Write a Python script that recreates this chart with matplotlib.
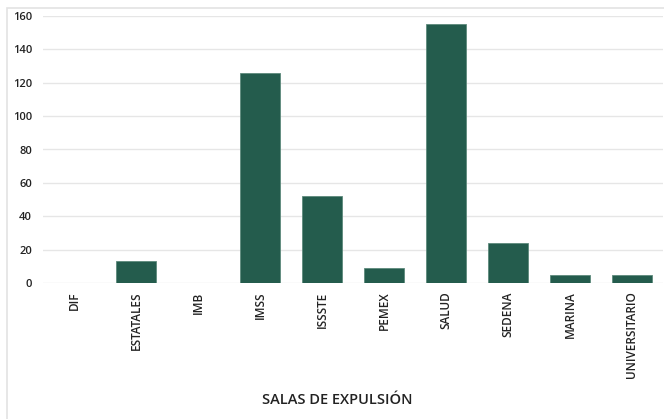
import matplotlib
matplotlib.use("Agg")
import matplotlib.pyplot as plt
from matplotlib.patches import Rectangle

categories = ["DIF", "ESTATALES", "IMB", "IMSS", "ISSSTE", "PEMEX", "SALUD", "SEDENA", "MARINA", "UNIVERSITARIO"]
values = [0, 13, 0, 126, 52, 9, 155, 24, 5, 5]
yticks = [0, 20, 40, 60, 80, 100, 120, 140, 160]

plt.rcParams['font.family'] = ['Open Sans', 'DejaVu Sans']

fig = plt.figure(figsize=(6.64, 4.19), dpi=100)
fig.patches.append(Rectangle((7/664, -0.01), 1.0, 1 - 8/419 + 0.01, transform=fig.transFigure,
                             fill=False, edgecolor='#e3e3e3', linewidth=1.2))
ax = fig.add_axes([43/664, 1 - 283/419, 620/664, 267/419])
x = range(len(categories))
ax.bar(x, values, width=0.66, color='#245c4d', edgecolor='#5d8a7c', linewidth=0.6, zorder=3)
ax.set_xlim(-0.5, len(categories) - 0.5)
ax.set_ylim(0, 160)
ax.set_yticks(yticks)
ax.set_yticklabels([str(t) for t in yticks], fontsize=8, color='#222222', fontweight='semibold')
ax.set_xticks(list(x))
ax.set_xticklabels(categories, rotation=90, fontsize=8.5, color='#222222', fontweight='semibold')
ax.tick_params(length=0, pad=8)
ax.tick_params(axis='x', pad=6)
ax.grid(axis='y', color='#e6e6e6', linewidth=1, zorder=0)
for s in ax.spines.values():
    s.set_visible(False)
fig.text(337/664, 1 - 400/419, "SALAS DE EXPULSIÓN", ha='center', va='center', fontsize=10.5,
         color='#222222', fontweight='semibold')
fig.savefig("out.png", dpi=100)
